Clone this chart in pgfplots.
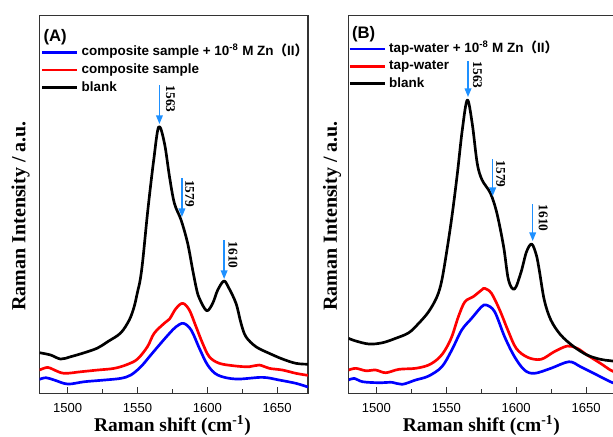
\documentclass[border=0pt]{standalone}
\usepackage{fontspec}
\setmainfont{Liberation Sans}
\newfontfamily\timesf{Liberation Serif}
\newfontfamily\cjk{Noto Sans CJK SC}
\usepackage{pgfplots}
\pgfplotsset{compat=1.18}
\usetikzlibrary{arrows.meta}
\definecolor{arrblue}{RGB}{30,144,255}
\pgfplotsset{
  panel/.style={
    scale only axis, width=201.2pt, height=283.2pt,
    xmin=1480, xmax=1672, ymin=15.7, ymax=393.3, y dir=reverse,
    xtick={1500,1550,1600,1650}, minor x tick num=1, xtick pos=left, ytick=\empty,
    tick align=inside, major tick length=5pt, minor tick length=3pt,
    axis line style={line width=0.9pt, black!80},
    every tick/.style={black!80, line width=0.7pt},
    /pgf/number format/assume math mode=true,
    /pgf/number format/1000 sep={},
    xticklabel style={font=\fontsize{9.8}{10}\selectfont, anchor=base, inner sep=0pt, yshift=-14.6pt},
    xlabel={Raman shift (cm\textsuperscript{-1})},
    xlabel style={font=\timesf\bfseries\fontsize{14.6}{16}\selectfont, inner sep=0pt, at={(axis description cs:0.495,-0.1003)}, anchor=base},
    ylabel={Raman Intensity / a.u.},
    ylabel style={font=\timesf\bfseries\fontsize{15}{17}\selectfont, inner sep=0pt, anchor=center},
    legend cell align=left,
    legend image code/.code={\draw[##1, line width=2pt] (0pt,0pt) -- (26pt,0pt);},
    legend style={draw=none, fill=none, inner sep=0pt, outer sep=0pt, anchor=north west,
      column sep=2.5pt, font=\bfseries\fontsize{10.1}{11}\selectfont,
      nodes={inner sep=0pt, text height=7.6pt, text depth=2.4pt}},
    every axis plot/.append style={line width=2pt, smooth, tension=0.55, line join=round},
  },
}
\tikzset{
  arr/.style={arrblue, line width=1.1pt, -{Triangle[width=5pt,length=6.5pt]}},
  lab/.style={font=\timesf\bfseries\fontsize{10}{12}\selectfont, rotate=-90, anchor=center, inner sep=0pt},
}
\begin{document}
\begin{tikzpicture}
\path[use as bounding box] (0,0) rectangle (459.75pt,327pt);
\clip (0,0) rectangle (459.75pt,327pt);
% ---------------- Panel A ----------------
\begin{axis}[panel, at={(29.775pt,32pt)}, anchor=south west,
  ylabel style={at={(axis description cs:-0.0716,0.47)}},
  legend style={at={(axis description cs:0.0048,0.921)}, row sep=3.3pt}]
\addplot[blue] coordinates {(1479.8,379.3) (1484.5,377.7) (1490.5,380) (1500,384) (1511.9,381.7) (1526.2,380) (1538.1,378.3) (1545.2,375) (1552.4,366.7) (1559.5,355) (1566.6,343.3) (1572.9,333.3) (1577.6,326.7) (1582.9,323.3) (1588.4,330) (1594.3,348.3) (1600.2,365) (1607.4,375) (1620.5,379) (1639.5,377.3) (1651.4,380) (1663.4,383.3) (1672,387)};
\addlegendentry{composite sample + 10\textsuperscript{-8} M Zn{\cjk （}II{\cjk ）}}
\addplot[red] coordinates {(1479.8,370) (1485.7,367.3) (1490.5,370) (1497.6,373.3) (1509.5,371.7) (1521.4,370) (1533.4,368.3) (1542.9,364.3) (1550,359) (1557.1,346.7) (1561.9,333.3) (1569.1,323.3) (1572.9,319) (1577.6,308.3) (1582.4,303.3) (1587.1,310) (1591.9,326.7) (1596.6,343.3) (1601.4,356.7) (1608.6,363.3) (1620.5,366) (1630,366.7) (1637.1,365) (1644.3,368.3) (1653.8,370) (1663.4,373.3) (1672,375.3)};
\addlegendentry{composite sample}
\addplot[black] coordinates {(1480,352.7) (1487.9,355) (1495,359) (1502.1,356.7) (1511.9,352.7) (1521.4,348) (1528.6,341.7) (1537.9,333) (1544.1,320) (1547.6,306.7) (1550,292) (1551.9,280) (1553.8,260) (1557.4,210) (1561.6,160) (1565.2,126.7) (1569.3,143.3) (1572.9,176.7) (1576.4,203.3) (1581.2,220) (1585.9,243.3) (1589.5,270) (1592.4,290) (1594.5,299) (1599.5,310.7) (1603.8,303.3) (1607.4,290) (1611.8,281) (1615,287) (1620.5,303.3) (1624.1,323.3) (1627.6,336.7) (1634.8,346.7) (1644.3,353.3) (1653.8,359) (1663.4,363.3) (1672,364.2)};
\addlegendentry{blank}
\draw[arr] (axis cs:1565.7,85) -- (axis cs:1565.7,124);
\draw[arr] (axis cs:1581.8,178) -- (axis cs:1581.8,217);
\draw[arr] (axis cs:1612,240) -- (axis cs:1612,279);
\node[lab] at (axis cs:1573.6,99) {1563};
\node[lab] at (axis cs:1587.4,193.5) {1579};
\node[lab] at (axis cs:1618.4,255) {1610};
\node[anchor=west, inner sep=0pt, font=\bfseries\fontsize{12.5}{14}\selectfont] at (axis description cs:0.0134,0.942) {(A)};
\end{axis}
% ---------------- Panel B ----------------
\begin{axis}[panel, at={(261.4pt,32pt)}, anchor=south west,
  ylabel style={at={(axis description cs:-0.0615,0.47)}},
  legend style={at={(axis description cs:0.0,0.930)}, row sep=3.1pt}]
\addplot[blue] coordinates {(1480,380) (1484.1,378.3) (1490.1,381.7) (1501.8,382.7) (1511.3,382.3) (1518.4,384.3) (1527.9,380) (1537.3,376) (1546.8,366.7) (1553.9,350) (1561,330) (1568.1,318.3) (1575.2,306.7) (1578.7,305) (1584.6,311.7) (1591.7,336.7) (1598.8,356.7) (1605.9,370) (1613,373.3) (1624.8,368.3) (1637.8,361.7) (1646.1,366.7) (1657.9,375) (1667.4,381.7) (1672,384)};
\addlegendentry{tap-water + 10\textsuperscript{-8} M Zn{\cjk （}II{\cjk ）}}
\addplot[red] coordinates {(1480,370) (1485.3,368.3) (1492.4,370.7) (1499.5,370) (1506.6,372.7) (1516,369.3) (1527.9,368.3) (1537.3,365) (1544.4,358.3) (1549.1,350) (1553.9,336.7) (1558.6,316.7) (1563.3,301.7) (1569.2,296.7) (1575.2,290) (1577.5,288.3) (1582.3,293.3) (1588.2,310) (1594,330) (1600,348.3) (1608.2,357.3) (1617.7,359.3) (1627.2,351.7) (1636.6,346) (1643.7,348.3) (1650.8,355) (1660.3,363.3) (1667.4,370) (1672,373)};
\addlegendentry{tap-water}
\addplot[black] coordinates {(1480,338.3) (1485.3,341) (1494.8,344) (1504.3,342.7) (1513.7,338.3) (1523.1,332.7) (1530.2,323.3) (1537.3,311.7) (1543.3,296.7) (1546.8,280) (1550.8,246.7) (1554.3,213.3) (1557.9,173.3) (1561.4,130) (1565,100) (1568.5,123.3) (1572.1,163.3) (1575.6,180) (1581.6,193.3) (1586.2,213.3) (1591,246.7) (1594.5,280) (1598.8,289) (1603.5,272) (1607.3,252) (1611.1,244) (1614.4,255) (1616.5,270) (1620.1,300) (1624.8,320) (1631.9,335) (1641.3,346.7) (1650.8,355) (1660.3,359.3) (1667.4,360.7) (1672,361.5)};
\addlegendentry{blank}
\draw[arr] (axis cs:1565.5,61) -- (axis cs:1565.5,97);
\draw[arr] (axis cs:1583.2,159) -- (axis cs:1583.2,196);
\draw[arr] (axis cs:1611.8,204) -- (axis cs:1611.8,241);
\node[lab] at (axis cs:1572.2,75) {1563};
\node[lab] at (axis cs:1588.9,174) {1579};
\node[lab] at (axis cs:1619.4,218) {1610};
\node[anchor=west, inner sep=0pt, font=\bfseries\fontsize{12.5}{14}\selectfont] at (axis description cs:0.012,0.951) {(B)};
\end{axis}
\end{tikzpicture}
\end{document}
